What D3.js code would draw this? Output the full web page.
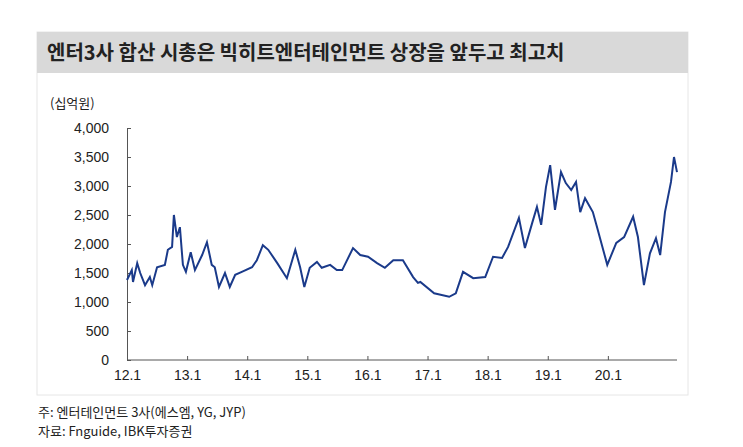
<!DOCTYPE html>
<html><head><meta charset="utf-8">
<script src="https://cdn.jsdelivr.net/npm/d3@7"></script>
<style>body{margin:0;background:#fff;font-family:"Noto Sans CJK KR","Liberation Sans",sans-serif}</style>
</head><body><svg id="c" width="743" height="447"></svg>
<script>
const title = "엔터3사 합산 시총은 빅히트엔터테인먼트 상장을 앞두고 최고치";
const unit = "(십억원)";
const yTicks = [0,500,1000,1500,2000,2500,3000,3500,4000];
const xTickYears = [2012,2013,2014,2015,2016,2017,2018,2019,2020];
const xTickLabels = ["12.1","13.1","14.1","15.1","16.1","17.1","18.1","19.1","20.1"];
const notes = ["주: 엔터테인먼트 3사(에스엠, YG, JYP)","자료: Fnguide, IBK투자증권"];
const dates = [2012.00,2012.08,2012.10,2012.17,2012.22,2012.30,2012.38,2012.42,2012.50,2012.63,2012.68,2012.75,2012.78,2012.83,2012.88,2012.93,2012.98,2013.06,2013.13,2013.25,2013.33,2013.41,2013.46,2013.53,2013.63,2013.71,2013.80,2013.91,2014.08,2014.16,2014.26,2014.35,2014.50,2014.66,2014.80,2014.88,2014.95,2015.04,2015.16,2015.24,2015.38,2015.49,2015.58,2015.76,2015.88,2016.01,2016.16,2016.29,2016.43,2016.59,2016.76,2016.84,2016.88,2017.11,2017.36,2017.47,2017.59,2017.76,2017.96,2018.09,2018.24,2018.34,2018.52,2018.62,2018.74,2018.82,2018.89,2018.97,2019.04,2019.12,2019.22,2019.30,2019.39,2019.47,2019.54,2019.62,2019.75,2019.82,2019.99,2020.14,2020.27,2020.42,2020.50,2020.60,2020.70,2020.80,2020.87,2020.95,2021.05,2021.10,2021.15];
const values = [1380,1550,1345,1670,1500,1290,1430,1290,1600,1640,1900,1950,2500,2120,2290,1640,1520,1860,1550,1810,2030,1640,1600,1260,1500,1260,1470,1520,1600,1720,1980,1900,1670,1410,1900,1600,1260,1590,1690,1590,1640,1550,1550,1930,1810,1780,1670,1590,1720,1720,1430,1330,1345,1150,1090,1150,1520,1410,1430,1780,1760,1950,2450,1930,2360,2640,2330,2980,3360,2590,3240,3050,2930,3070,2550,2790,2550,2290,1640,2020,2120,2470,2120,1290,1840,2100,1810,2550,3070,3500,3240];

const svg = d3.select("#c");
svg.append("rect").attr("x",37).attr("y",32).attr("width",651).attr("height",363).attr("fill","#fff").attr("stroke","#e6e6e6");
svg.append("rect").attr("x",37).attr("y",32).attr("width",651).attr("height",41).attr("fill","#d9d9d9");
svg.append("text").attr("x",47).attr("y",60).attr("font-size",20).attr("font-weight","bold").attr("fill","#222").text(title);
svg.append("text").attr("x",50).attr("y",108).attr("font-size",13).attr("fill","#222").text(unit);

const x = d3.scaleLinear().domain([2012,2021.15]).range([127,677]);
const y = d3.scaleLinear().domain([0,4000]).range([360,128]);
const ya = svg.append("g").attr("transform","translate(127,0)")
  .call(d3.axisLeft(y).tickValues(yTicks).tickFormat(d3.format(",")).tickSizeInner(-4).tickSizeOuter(0).tickPadding(18));
const xa = svg.append("g").attr("transform","translate(0,360)")
  .call(d3.axisBottom(x).tickValues(xTickYears).tickFormat((d,i)=>xTickLabels[i]).tickSizeInner(-4).tickSizeOuter(0).tickPadding(10));
[ya,xa].forEach(a=>{a.selectAll("path,line").attr("stroke","#555");a.selectAll("text").attr("font-size",14).attr("fill","#222").attr("font-family","Liberation Sans, sans-serif");});
xa.select(".domain").attr("d","M127,0H677");

const pts = dates.map((d,i)=>[d,values[i]]);
svg.append("path").datum(pts).attr("fill","none").attr("stroke","#1a3a8a").attr("stroke-width",2)
  .attr("d",d3.line().x(d=>x(d[0])).y(d=>y(d[1])));

notes.forEach((t,i)=>svg.append("text").attr("x",38).attr("y",417+i*19).attr("font-size",13).attr("fill","#222").text(t));
</script></body></html>
